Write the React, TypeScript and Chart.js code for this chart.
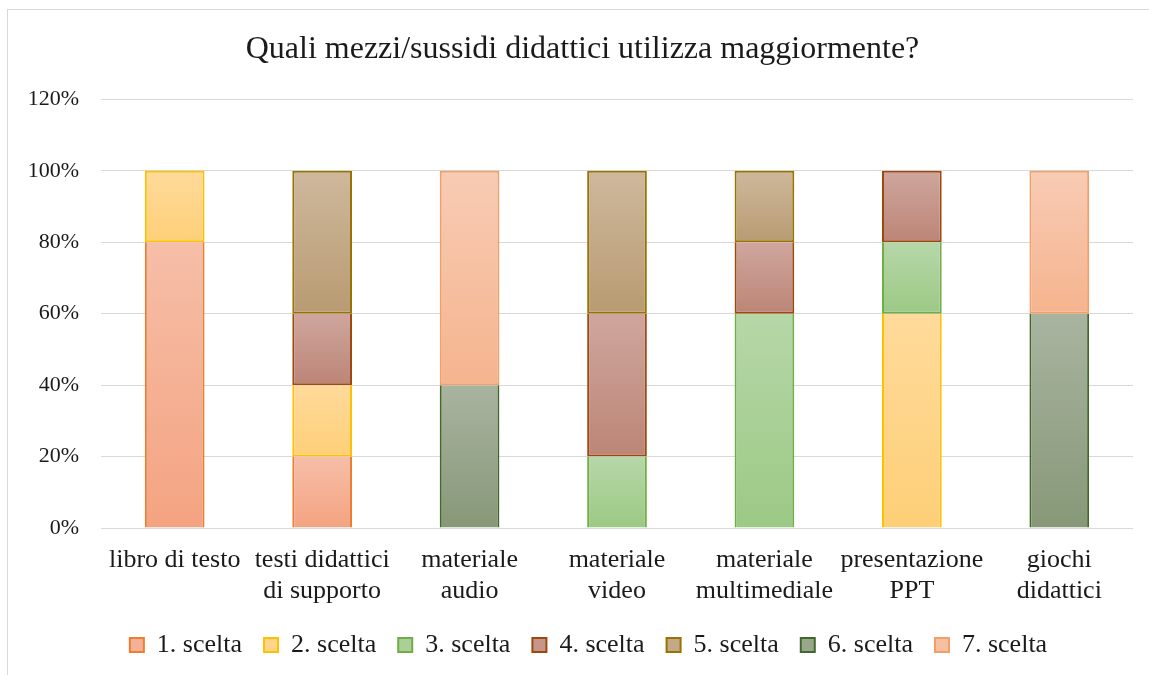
import React, { useEffect, useRef } from 'react';
import { Chart, registerables } from 'chart.js';

Chart.register(...registerables);

const titleText = 'Quali mezzi/sussidi didattici utilizza maggiormente?';
const categories: string[][] = [
  ['libro di testo'],
  ['testi didattici', 'di supporto'],
  ['materiale', 'audio'],
  ['materiale', 'video'],
  ['materiale', 'multimediale'],
  ['presentazione', 'PPT'],
  ['giochi', 'didattici'],
];
const seriesNames = ['1. scelta', '2. scelta', '3. scelta', '4. scelta', '5. scelta', '6. scelta', '7. scelta'];
const scelta1 = [80, 20, null, null, null, null, null];
const scelta2 = [20, 20, null, null, null, 60, null];
const scelta3 = [null, null, null, 20, 60, 20, null];
const scelta4 = [null, 20, null, 40, 20, 20, null];
const scelta5 = [null, 40, null, 40, 20, null, null];
const scelta6 = [null, null, 40, null, null, null, 60];
const scelta7 = [null, null, 60, null, null, null, 40];
const seriesValues = [scelta1, scelta2, scelta3, scelta4, scelta5, scelta6, scelta7];
const yTickValues = [0, 20, 40, 60, 80, 100, 120];

const palette = [
  { top: '#F6BEA8', mid: '#F5B196', bottom: '#F4A381', border: '#ED7D31' },
  { top: '#FFDA9A', mid: '#FED58A', bottom: '#FDCF78', border: '#FFC000' },
  { top: '#B6D7A8', mid: '#A9D196', bottom: '#9CC985', border: '#70AD47' },
  { top: '#CFA69E', mid: '#C6968A', bottom: '#BC8576', border: '#9E480E' },
  { top: '#CEB89C', mid: '#C3A987', bottom: '#B89B72', border: '#997300' },
  { top: '#A9B4A0', mid: '#98A68C', bottom: '#879878', border: '#43682B' },
  { top: '#F8CBB4', mid: '#F7C0A2', bottom: '#F5B48E', border: '#F19E68' },
];

const FONT = "'Liberation Serif', 'Times New Roman', serif";

function segBounds(chart: any, di: number, i: number): [number, number] {
  let base = 0;
  for (let d = 0; d < di; d++) base += chart.data.datasets[d].data[i] ?? 0;
  const v = chart.data.datasets[di].data[i] ?? 0;
  return [base, base + v];
}

function isTopSeg(chart: any, di: number, i: number): boolean {
  for (let d = di + 1; d < chart.data.datasets.length; d++) {
    if ((chart.data.datasets[d].data[i] ?? 0) > 0) return false;
  }
  return true;
}

const boxShift = {
  id: 'boxShift',
  afterLayout(chart: any) {
    const l = chart.legend;
    if (l) {
      l.left += 18;
      l.right += 18;
    }
    const t = chart.titleBlock;
    if (t) {
      t.left += 12;
      t.right += 12;
    }
  },
};

export default function App() {
  const ref = useRef<HTMLCanvasElement | null>(null);

  useEffect(() => {
    if (!ref.current) return;
    const datasets = seriesValues.map((vals, k) => ({
      label: seriesNames[k],
      data: vals,
      borderColor: palette[k].border,
      backgroundColor: (ctx: any) => {
        const c = palette[k];
        if (ctx.type !== 'data' || !ctx.chart.chartArea) return c.mid;
        const y = ctx.chart.scales.y;
        const [b, t] = segBounds(ctx.chart, ctx.datasetIndex, ctx.dataIndex);
        if (t <= b) return c.mid;
        const g = ctx.chart.ctx.createLinearGradient(0, y.getPixelForValue(t), 0, y.getPixelForValue(b));
        g.addColorStop(0, c.top);
        g.addColorStop(1, c.bottom);
        return g;
      },
      borderWidth: (ctx: any) => {
        if (ctx.type !== 'data') return 2;
        const [b] = segBounds(ctx.chart, ctx.datasetIndex, ctx.dataIndex);
        const top = isTopSeg(ctx.chart, ctx.datasetIndex, ctx.dataIndex);
        return { top: top ? 2 : 0, bottom: b === 0 ? 0 : 2, left: 2, right: 2 };
      },
      borderSkipped: false,
      categoryPercentage: 1,
      barPercentage: 0.405,
    }));

    const chart = new Chart(ref.current, {
      type: 'bar',
      data: { labels: categories, datasets },
      plugins: [boxShift],
      options: {
        animation: false,
        responsive: false,
        devicePixelRatio: 1,
        layout: { padding: { top: 10, right: 16, bottom: 7, left: 0 } },
        plugins: {
          title: {
            display: true,
            text: titleText,
            color: '#1a1a1a',
            font: { family: FONT, size: 32, weight: 'normal' },
            padding: { top: 10, bottom: 31 },
          },
          legend: {
            position: 'bottom',
            labels: {
              color: '#1a1a1a',
              font: { family: FONT, size: 26 },
              boxWidth: 14,
              boxHeight: 14,
              padding: 22,
              generateLabels: (ch: any) =>
                ch.data.datasets.map((ds: any, i: number) => ({
                  text: ds.label,
                  fillStyle: palette[i].mid,
                  strokeStyle: palette[i].border,
                  lineWidth: 2,
                  hidden: false,
                  datasetIndex: i,
                  fontColor: '#1a1a1a',
                })),
            },
          },
          tooltip: { enabled: false },
        },
        scales: {
          x: {
            stacked: true,
            grid: { display: false, drawTicks: false },
            border: { display: false },
            ticks: {
              color: '#1a1a1a',
              font: { family: FONT, size: 26, lineHeight: 1.19 },
              maxRotation: 0,
              autoSkip: false,
              padding: 17,
            },
            afterFit: (s: any) => { s.height = 82; },
          },
          y: {
            stacked: true,
            min: 0,
            max: 120,
            afterBuildTicks: (s: any) => { s.ticks = yTickValues.map((v) => ({ value: v })); },
            grid: { color: '#d9d9d9', lineWidth: 1, drawTicks: false },
            border: { display: false },
            ticks: {
              color: '#1a1a1a',
              font: { family: FONT, size: 22 },
              padding: 22,
              callback: (v: any) => v + '%',
            },
            afterFit: (s: any) => { s.width = 93; },
          },
        },
      },
    });
    return () => chart.destroy();
  }, []);

  return (
    <div
      style={{
        position: 'absolute',
        left: 7,
        top: 9,
        width: 1142,
        height: 666,
        borderLeft: '1px solid #d9d9d9',
        borderTop: '1px solid #d9d9d9',
        background: '#fff',
        overflow: 'hidden',
      }}
    >
      <canvas ref={ref} width={1141} height={665} style={{ display: 'block' }} />
    </div>
  );
}
